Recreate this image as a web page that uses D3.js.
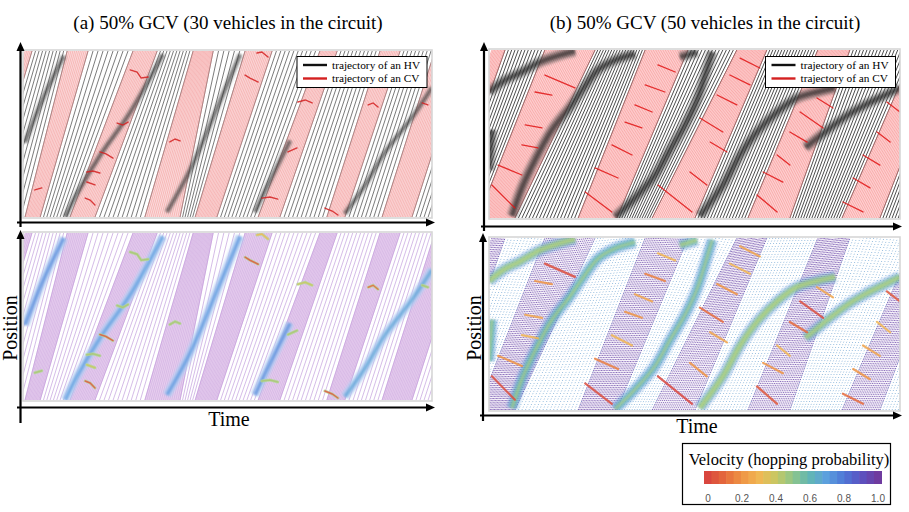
<!DOCTYPE html>
<html>
<head>
<meta charset="utf-8">
<script src="https://cdn.jsdelivr.net/npm/d3@7"></script>
<style>
body { margin: 0; background: #fff; }
svg { display: block; }
text { font-family: "Liberation Serif", "Times New Roman", serif; }
</style>
</head>
<body>
<svg id="chart" width="909" height="512"></svg>
<script>
// time (0-100) and position (0-100) are fractions of each panel's plot box

// (a) 30 vehicles: CV platoons, [left, right] time where they cross bottom / top
var aBandBottom = [[-11.7,-10.0],[0.5,4.2],[11.5,17.6],[29.8,38.4],[42.1,47.4],[57.5,62.8],[74.3,78.7],[87.8,95.1],[104,112]];
var aBandTop    = [[0.5,2.2],[10.8,15.9],[26.9,32.8],[41.6,46.5],[54.3,60.9],[72.6,76.8],[87.3,92.2],[100.7,108.1],[118,125]];
// dense HV clusters (stop-and-go waves)
var aJams = [
  [[0.5,45],[5,72],[10,97]],
  [[10.3,0],[13.4,15],[18.8,37],[26.2,63],[34.2,98]],
  [[35.2,3],[40.8,28],[48.2,70],[53.1,98]],
  [[56.7,3],[60.4,22],[65.3,46]],
  [[78.7,2],[83.6,19],[88.5,39],[95.1,60],[100,78]]
];
var aJamSpeed = [0.75, 0.7, 0.72, 0.75, 0.68];
// CV slow-downs
var aKinks = [
  [[26.2,88.6],[27.9,87.3],[28.9,83.7],[30.6,84.3]],
  [[23,56.6],[24.4,55.4],[25.7,57.2]],
  [[18.8,39.2],[20.3,38],[22,35.5]],
  [[15.6,27.1],[17.1,27.7],[18.8,26.5]],
  [[15.6,21.1],[17.6,19.3]],
  [[15.2,11.4],[16.4,10.2],[17.6,7.2]],
  [[35.9,45.2],[37.2,47],[38.4,45.8]],
  [[54.3,85.5],[55.5,83.7],[57.5,81.3]],
  [[57.2,98.8],[58.4,99.4],[59.9,96.4]],
  [[67.2,69.3],[69,70.5],[70.7,68.7]],
  [[64.8,39.2],[67,41.6]],
  [[58.4,11.4],[60.4,12],[62.3,10.8]],
  [[73.8,5.4],[75.6,3.6],[77,1.2]],
  [[84.4,67.5],[85.6,68.7],[86.8,66.3]],
  [[97.6,68.7],[99,67.5]],
  [[2.9,16.3],[4.6,17.5]]
];
var aKinkSpeed = [0.45,0.45,0.05,0.45,0.4,0.05,0.45,0.05,0.3,0.4,0.45,0.45,0.05,0.1,0.45,0.45];

// (b) 50 vehicles
var bBandBottom = [[-14.4,-10.7],[-2.7,6.3],[21.7,31.1],[39.7,50.1],[63,73.2],[85.9,95.1],[108.5,114.6]];
var bBandTop    = [[0.7,3.9],[13.6,25.8],[38,48.4],[60.3,67.6],[80,87.8],[103.6,111],[124,131]];
var bJams = [
  [[0,75],[3.9,82.1],[7.5,86.3],[12.4,92.9],[17.3,97],[20.9,99.4]],
  [[5.6,1.2],[8,17.9],[11.2,34.5],[15.3,52.4],[19.7,66.1],[22.6,76],[26.5,88],[30.7,94],[35.5,97.6]],
  [[46.5,95.8],[50.6,98.8]],
  [[30.7,0.6],[35.5,11.9],[40.4,25.6],[44,40.5],[47.7,55.4],[50.6,70.2],[52.6,85.1],[54.3,98.8]],
  [[51.3,1.2],[56.9,19.6],[61.1,37.5],[65.2,51.2],[70.1,63.1],[74.9,71.4],[79.8,75],[84.2,77.4]],
  [[77,42],[79.3,46.4],[83,53.6],[87.3,61.3],[91.5,67.3],[96.4,73.2],[100,77.4]],
  [[0,28.6],[0.7,52.4]]
];
var bJamSpeed = [0.5, 0.6, 0.55, 0.62, 0.5, 0.52, 0.6];
var bKinks = [
  [[0.7,19.6],[6.3,6.0]], [[2.2,31.5],[8.0,25.6]], [[8.0,43.5],[11.9,41.7]],
  [[8.8,55.4],[12.9,53.6]], [[11.2,75.0],[15.3,73.2]], [[13.6,85.1],[20.9,77.4]],
  [[23.4,15.5],[29.9,3.6]], [[25.8,29.8],[31.4,23.8]], [[29.9,43.5],[34.8,37.5]],
  [[33.1,57.1],[37.2,53.6]], [[35.5,67.3],[39.7,63.1]], [[38.0,79.2],[42.8,75.0]],
  [[41.1,91.1],[45.3,86.9]],
  [[41.1,19.6],[49.4,3.6]], [[48.9,27.4],[53.0,19.6]], [[53.8,45.2],[57.9,39.3]],
  [[51.3,59.5],[56.9,51.2]], [[55.5,73.2],[60.3,67.3]], [[58.6,85.1],[63.5,79.2]],
  [[61.1,95.2],[65.9,89.3]],
  [[65.2,13.7],[70.1,3.6]], [[66.7,27.4],[71.5,21.4]], [[70.1,37.5],[73.2,31.5]],
  [[73.2,51.2],[77.4,45.2]], [[75.7,63.1],[81.3,53.6]], [[79.8,71.4],[83.7,65.5]],
  [[86.1,9.5],[91.0,3.6]], [[88.6,23.8],[92.7,17.9]], [[91.0,37.5],[95.1,31.5]],
  [[94.4,51.2],[97.6,45.2]], [[96.8,69.0],[100,63.1]]
];
var bKinkSpeed = [0.02,0.2,0.3,0.25,0.2,0.02, 0.02,0.15,0.3,0.2,0.25,0.15,0.3,
  0.0,0.2,0.25,0.1,0.2,0.3,0.25, 0.05,0.2,0.3,0.1,0.02,0.25, 0.1,0.2,0.25,0.3,0.05];

// colour bar
var velTicks = [0, 0.2, 0.4, 0.6, 0.8, 1.0];
var velStops = [0, 0.1, 0.2, 0.3, 0.4, 0.5, 0.6, 0.7, 0.8, 0.9, 1.0];
var velColors = ["#d9463e","#e56a3c","#ee9444","#f1b653","#c9c862","#8ec58a","#62b6b4","#5c9fdf","#4f78d6","#5a52c2","#6f3b9f"];

var legendLabels = ["trajectory of an HV", "trajectory of an CV"];
var legendColors = ["#111", "#d42020"];

var vel = d3.scaleLinear().domain(velStops).range(velColors);
var svg = d3.select("#chart");

var defs = svg.append("defs");
defs.append("filter").attr("id", "soft").attr("x", "-20%").attr("y", "-20%")
  .attr("width", "140%").attr("height", "140%")
  .append("feGaussianBlur").attr("stdDeviation", 1.1);

function strip(bL, bR, tL, tR, step) {
  var n = Math.max(1, Math.round(((bR - bL) + (tR - tL)) / 2 / step));
  var out = [];
  for (var i = 0; i <= n; i++) {
    var f = i / n;
    out.push([bL + (bR - bL) * f, tL + (tR - tL) * f]);
  }
  return out;
}

var styles = {
  hv: { hvStep: 1.0, hvColor: "#222", hvWidth: 0.6, hvDash: null,
        cvStep: 0.4, cvFill: "rgba(245,120,120,0.26)", cvColor: "#f08a8a", cvWidth: 0.45, cvDash: null,
        jams: [{c:"#666", w:6, o:0.45, blur:true}, {c:"#1a1a1a", w:2, o:0.6, blur:true}],
        kink: function() { return "#d42020"; }, kinkW: 1.4 },
  hvB: { hvStep: 0.75, hvColor: "#111", hvWidth: 0.75, hvDash: null,
        cvStep: 0.4, cvFill: "rgba(255,110,110,0.24)", cvColor: "#f27c7c", cvWidth: 0.5, cvDash: null,
        jams: [{c:"#555", w:11, o:0.45, blur:true}, {c:"#1a1a1a", w:5, o:0.6, blur:true}],
        kink: function() { return "#e01414"; }, kinkW: 1.3 },
  velA: { hvStep: 1.0, hvColor: "#b98fd6", hvWidth: 0.6, hvDash: null,
        cvStep: 0.4, cvFill: "rgba(195,135,215,0.40)", cvColor: "#c8a0dc", cvWidth: 0.45, cvDash: null,
        jams: [{c:"#b5cdf2", w:9, o:0.8, blur:true}, {c:"#7090dc", w:3.5, o:0.75, blur:true}],
        kink: function(s) { return vel(s); }, kinkW: 1.5, kinkHalo: "#b4d99a" },
  velB: { hvStep: 0.75, hvColor: "#3f86c4", hvWidth: 0.8, hvDash: "0.7,2.2",
        cvStep: 0.4, cvFill: "rgba(160,110,210,0.08)", cvColor: "#5e3aa0", cvWidth: 0.85, cvDash: "0.9,1.1",
        jams: [{c:"#4a8ad8", w:12, o:0.4, blur:true}, {c:"#8dcf8c", w:7, o:0.75, blur:true}, {c:"#c9d862", w:2, o:0.6, blur:true}],
        kink: function(s) { return vel(s); }, kinkW: 2.2 }
};

function drawPlot(p) {
  var st = styles[p.style];
  var x = d3.scaleLinear().domain([0, 100]).range([p.x0, p.x1]);
  var y = d3.scaleLinear().domain([0, 100]).range([p.yB, p.yT]);
  var clipId = "clip-" + p.name;
  defs.append("clipPath").attr("id", clipId).append("rect")
    .attr("x", p.x0).attr("y", p.yT).attr("width", p.x1 - p.x0).attr("height", p.yB - p.yT);
  var body = svg.append("g").attr("clip-path", "url(#" + clipId + ")");
  var bb = p.bottom, tt = p.top;

  var hv = [];
  for (var k = 0; k < bb.length - 1; k++)
    hv = hv.concat(strip(bb[k][1], bb[k + 1][0], tt[k][1], tt[k + 1][0], st.hvStep));
  body.append("g").selectAll("line").data(hv).enter().append("line")
    .attr("x1", function(d) { return x(d[0]); }).attr("y1", y(0))
    .attr("x2", function(d) { return x(d[1]); }).attr("y2", y(100))
    .attr("stroke", st.hvColor).attr("stroke-width", st.hvWidth)
    .attr("stroke-dasharray", st.hvDash);

  body.append("g").selectAll("polygon").data(bb).enter().append("polygon")
    .attr("points", function(d, i) {
      return [[x(d[0]), y(0)], [x(d[1]), y(0)], [x(tt[i][1]), y(100)], [x(tt[i][0]), y(100)]].join(" ");
    })
    .attr("fill", st.cvFill);

  var cv = [];
  bb.forEach(function(d, i) { cv = cv.concat(strip(d[0], d[1], tt[i][0], tt[i][1], st.cvStep)); });
  body.append("g").selectAll("line").data(cv).enter().append("line")
    .attr("x1", function(d) { return x(d[0]); }).attr("y1", y(0))
    .attr("x2", function(d) { return x(d[1]); }).attr("y2", y(100))
    .attr("stroke", st.cvColor).attr("stroke-width", st.cvWidth)
    .attr("stroke-dasharray", st.cvDash);

  var line = d3.line().x(function(d) { return x(d[0]); }).y(function(d) { return y(d[1]); })
    .curve(d3.curveCatmullRom);
  st.jams.forEach(function(layer, li) {
    body.append("g").attr("filter", layer.blur ? "url(#soft)" : null)
      .selectAll("path").data(p.jams).enter().append("path")
      .attr("d", line).attr("fill", "none")
      .attr("stroke", function(d, i) {
        // velocity panels tint jam cores by speed
        if (p.jamSpeed && li === 1) return vel(p.jamSpeed[i]);
        return layer.c;
      })
      .attr("stroke-width", layer.w).attr("stroke-opacity", layer.o);
  });

  var kinkLine = d3.line().x(function(d) { return x(d[0]); }).y(function(d) { return y(d[1]); });
  if (st.kinkHalo) {
    body.append("g").selectAll("path").data(p.kinks).enter().append("path")
      .attr("d", kinkLine).attr("fill", "none").attr("stroke", st.kinkHalo)
      .attr("stroke-width", 3).attr("stroke-opacity", 0.8).attr("stroke-linecap", "round");
  }
  body.append("g").selectAll("path").data(p.kinks).enter().append("path")
    .attr("d", kinkLine).attr("fill", "none")
    .attr("stroke", function(d, i) { return st.kink(p.kinkSpeed[i]); })
    .attr("stroke-width", st.kinkW).attr("stroke-opacity", 0.85).attr("stroke-linecap", "round");

  svg.append("rect").attr("x", p.x0).attr("y", p.yT - 1)
    .attr("width", p.x1 - p.x0).attr("height", p.yB - p.yT + 2)
    .attr("fill", "none").attr("stroke", "#d6d6d6").attr("stroke-width", 1.6);

  if (p.legend) {
    var lg = svg.append("g").attr("transform", "translate(" + p.legend[0] + "," + p.legend[1] + ")");
    lg.append("rect").attr("x", 0).attr("y", 0).attr("width", 130).attr("height", 31)
      .attr("fill", "#fff").attr("stroke", "#000").attr("stroke-width", 1);
    legendLabels.forEach(function(t, i) {
      lg.append("line").attr("x1", 6).attr("x2", 30).attr("y1", 8.5 + i * 13.5).attr("y2", 8.5 + i * 13.5)
        .attr("stroke", legendColors[i]).attr("stroke-width", 2.4);
      lg.append("text").attr("x", 35).attr("y", 12.3 + i * 13.5).attr("font-size", 11.3).text(t);
    });
  }
}

function arrowAxis(x1, y1, x2, y2) {
  var dx = x2 - x1, dy = y2 - y1, L = Math.sqrt(dx * dx + dy * dy);
  var ux = dx / L, uy = dy / L, hl = 9, hw = 4;
  svg.append("line").attr("x1", x1).attr("y1", y1)
    .attr("x2", x2 - ux * hl * 0.6).attr("y2", y2 - uy * hl * 0.6)
    .attr("stroke", "#000").attr("stroke-width", 2.2);
  svg.append("path")
    .attr("d", "M" + x2 + "," + y2 +
      "L" + (x2 - ux * hl - uy * hw) + "," + (y2 - uy * hl + ux * hw) +
      "L" + (x2 - ux * hl + uy * hw) + "," + (y2 - uy * hl - ux * hw) + "Z")
    .attr("fill", "#000");
}

var plots = [
  {name: "a-top", style: "hv", x0: 23, x1: 432, yT: 51, yB: 217,
   bottom: aBandBottom, top: aBandTop, jams: aJams, kinks: aKinks, kinkSpeed: aKinkSpeed, legend: [297, 56.5]},
  {name: "a-bot", style: "velA", x0: 23, x1: 432, yT: 233, yB: 400,
   bottom: aBandBottom, top: aBandTop, jams: aJams, jamSpeed: aJamSpeed, kinks: aKinks, kinkSpeed: aKinkSpeed},
  {name: "b-top", style: "hvB", x0: 489, x1: 900, yT: 50, yB: 218,
   bottom: bBandBottom, top: bBandTop, jams: bJams, kinks: bKinks, kinkSpeed: bKinkSpeed, legend: [765.5, 56.5]},
  {name: "b-bot", style: "velB", x0: 489, x1: 900, yT: 238, yB: 410,
   bottom: bBandBottom, top: bBandTop, jams: bJams, jamSpeed: bJamSpeed, kinks: bKinks, kinkSpeed: bKinkSpeed}
];
plots.forEach(drawPlot);

// axes
arrowAxis(20.5, 227, 20.5, 42);
arrowAxis(17, 222.5, 435, 222.5);
arrowAxis(20.5, 423, 20.5, 230);
arrowAxis(17, 407.5, 435, 407.5);
arrowAxis(484, 231, 484, 42);
arrowAxis(481, 226.5, 902, 226.5);
arrowAxis(483, 421, 483, 233);
arrowAxis(480, 415.5, 902, 415.5);

// titles and axis labels
svg.append("text").attr("x", 228).attr("y", 28.5).attr("text-anchor", "middle")
  .attr("font-size", 19).text("(a) 50% GCV (30 vehicles in the circuit)");
svg.append("text").attr("x", 705).attr("y", 28.5).attr("text-anchor", "middle")
  .attr("font-size", 19).text("(b) 50% GCV (50 vehicles in the circuit)");
svg.append("text").attr("x", 229).attr("y", 426).attr("text-anchor", "middle")
  .attr("font-size", 20).text("Time");
svg.append("text").attr("x", 697).attr("y", 433).attr("text-anchor", "middle")
  .attr("font-size", 20).text("Time");
svg.append("text").attr("transform", "translate(17,328) rotate(-90)").attr("text-anchor", "middle")
  .attr("font-size", 20).text("Position");
svg.append("text").attr("transform", "translate(481,328) rotate(-90)").attr("text-anchor", "middle")
  .attr("font-size", 20).text("Position");

// colour bar legend
var cb = svg.append("g");
cb.append("rect").attr("x", 682.5).attr("y", 443.5).attr("width", 208).attr("height", 61)
  .attr("fill", "#fff").attr("stroke", "#000").attr("stroke-width", 1.2);
cb.append("text").attr("x", 789).attr("y", 465).attr("text-anchor", "middle")
  .attr("font-size", 16.5).text("Velocity (hopping probability)");
var cx = d3.scaleLinear().domain([0, 1]).range([708, 878]);
var steps = d3.range(0, 24).map(function(i) { return i / 23; });
cb.selectAll("rect.step").data(steps).enter().append("rect").attr("class", "step")
  .attr("x", function(d) { return cx(d) - 4; }).attr("y", 471)
  .attr("width", 8).attr("height", 13)
  .attr("fill", function(d) { return vel(d); });
cb.selectAll("text.tick").data(velTicks).enter().append("text").attr("class", "tick")
  .attr("x", function(d) { return cx(d); }).attr("y", 502).attr("text-anchor", "middle")
  .attr("font-size", 10).attr("fill", "#555")
  .style("font-family", "'Liberation Sans', Arial, sans-serif")
  .text(function(d) { return d === 0 ? "0" : d.toFixed(1); });
</script>
</body>
</html>
